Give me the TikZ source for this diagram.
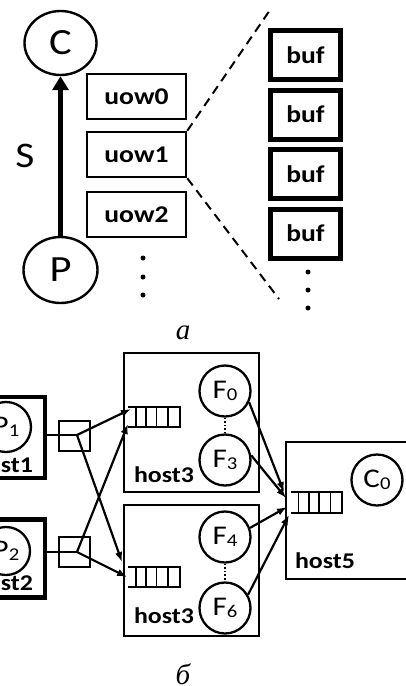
\documentclass[tikz,border=0pt]{standalone}
\usepackage{fontspec}
\setmainfont{Carlito}
\newfontfamily\widefont[FakeStretch=1.15]{Carlito}
\newfontfamily\capfont{Liberation Serif}
\usetikzlibrary{shapes.geometric,arrows.meta,calc}
\newcommand{\lowidx}[1]{\raisebox{-2pt}{\fontsize{18}{18}\selectfont #1}}
\begin{document}
\begin{tikzpicture}[x=1pt,y=-1pt,
  ring/.style={ellipse, draw, line width=2.4pt, inner sep=0pt, minimum width=72pt, minimum height=64pt, font=\widefont\fontsize{37}{37}\selectfont},
  uow/.style={rectangle, draw, line width=2.6pt, minimum width=99pt, minimum height=45pt, inner sep=0pt, font=\widefont\bfseries\fontsize{24}{24}\selectfont},
  buf/.style={rectangle, draw, line width=5pt, minimum width=70pt, minimum height=49pt, inner sep=0pt, font=\widefont\bfseries\fontsize{24}{24}\selectfont},
  dotmark/.style={circle, fill, inner sep=0pt, minimum size=5pt},
  dashline/.style={dash pattern=on 9pt off 6pt, line width=2pt},
  proc/.style={circle, draw, line width=2.3pt, minimum size=51pt, inner sep=0pt, font=\widefont\fontsize{27}{27}\selectfont},
  hostbox/.style={rectangle, draw, line width=2.8pt, inner sep=0pt},
  thickhost/.style={hostbox, line width=4.8pt},
  split/.style={rectangle, draw, line width=2pt, minimum width=31pt, minimum height=30pt, inner sep=0pt},
  queue/.style={rectangle, inner sep=0pt, minimum width=52pt, minimum height=20pt},
  qline/.style={line width=1.7pt},
  hostlbl/.style={font=\widefont\bfseries\fontsize{22.5}{22.5}\selectfont, anchor=base, inner sep=0pt},
  link/.style={line width=2.2pt},
  flow/.style={link, -{Latex[length=10pt,width=7.5pt]}},
  capt/.style={font=\capfont\itshape\fontsize{29}{29}\selectfont, inner sep=0pt}
]
\clip (0,0) rectangle (406,686);

% ---- part a: producer, consumer and units of work ----
\node[ring] (C) at (60.5,43) {C};
\node[ring, minimum width=74pt, minimum height=66pt] (P) at (60.5,270) {P};
\draw[line width=4.5pt, -{Triangle[length=14pt,width=16pt]}] (P.north) -- (C.south);
\node[font=\widefont\fontsize{36}{36}\selectfont, inner sep=0pt] (S) at (25,156) {S};

\node[uow] (u0) at (136.5,96.5) {uow0};
\node[uow] (u1) at (136.5,154.5) {uow1};
\node[uow] (u2) at (136.5,214.5) {uow2};
\foreach \y [count=\i] in {258,277,295} \node[dotmark] (ud\i) at (143,\y) {};

\coordinate (zt) at (270,10);
\coordinate (zb) at (279,299);
\draw[dashline] (u1.north east) -- (zt);
\draw[dashline] (u1.south east) -- (zb);

\foreach \y [count=\i] in {55,114.5,174,233.5} \node[buf] (b\i) at (305.5,\y) {buf};
\foreach \y [count=\i] in {272,290,308} \node[dotmark] (bd\i) at (308,\y) {};

\node[capt] (ca) at (183,333) {а};

% ---- part b: hosts, splitters and queues ----
\node[thickhost, minimum width=65pt, minimum height=81pt] (h1) at (12.5,437.5) {};
\node[thickhost, minimum width=65pt, minimum height=78.5pt] (h2) at (12.5,558.5) {};
\node[proc, minimum size=50pt] (P1) at (6,427) {P\lowidx{1}};
\node[proc, minimum size=48pt] (P2) at (6,551) {P\lowidx{2}};
\node[hostlbl] (l1) at (3,472) {host1};
\node[hostlbl] (l2) at (3,590) {host2};

\node[split] (s1) at (74,436) {};
\node[split] (s2) at (74,552) {};
\coordinate (j1) at (77,435);
\coordinate (j2) at (77,552);
\draw[link] (h1.east |- j1) -- (j1);
\draw[link] (h2.east |- j2) -- (j2);

\node[hostbox, minimum width=135pt, minimum height=139pt] (H3a) at (191.5,422.5) {};
\node[hostbox, minimum width=135pt, minimum height=131pt] (H3b) at (191.5,570.5) {};
\node[hostbox, minimum width=134pt, minimum height=137pt] (H5) at (353,510.5) {};

\node[queue] (qa) at (154,417) {};
\node[queue] (qb) at (154,577) {};
\node[queue, minimum width=51pt, minimum height=21pt] (qc) at (316.5,502.5) {};
\foreach \q in {qa,qb,qc} {
  \draw[qline] (\q.north west) -- (\q.north east) -- (\q.south east) -- (\q.south west);
  \foreach \f in {0.15,0.35,0.55,0.77}
    \draw[qline] ($(\q.north west)!\f!(\q.north east)$) -- ($(\q.south west)!\f!(\q.south east)$);
}

\node[proc] (F0) at (225,391) {F\lowidx{0}};
\node[proc] (F3) at (225,460) {F\lowidx{3}};
\node[proc] (F4) at (225,537) {F\lowidx{4}};
\node[proc] (F6) at (225,608) {F\lowidx{6}};
\node[proc] (C0) at (377,480) {C\lowidx{0}};
\draw[dotted, line width=1.6pt] (F0.south) -- (F3.north);
\draw[dotted, line width=1.6pt] (F4.south) -- (F6.north);

\node[hostlbl] (l3a) at (164,482) {host3};
\node[hostlbl] (l3b) at (164,623) {host3};
\node[hostlbl] (l5) at (325,568) {host5};

\coordinate (ta1) at (131,409);
\coordinate (ta2) at (128,424);
\coordinate (tb1) at (122,562);
\coordinate (tb2) at (127,577);
\draw[flow] (j1) -- (ta1);
\draw[flow] (j2) -- (ta2);
\draw[flow] (j1) -- (tb1);
\draw[flow] (j2) -- (tb2);

\coordinate (tc1) at (284,492);
\coordinate (tc2) at (286,498);
\coordinate (tc3) at (287,507);
\coordinate (tc4) at (289,515);
\draw[flow] (F0.-25) -- (tc1);
\draw[flow] (F3.10) -- (tc2);
\draw[flow] (F4.20) -- (tc3);
\draw[flow] (F6.30) -- (tc4);

\node[capt] (cb) at (183,674) {б};
\end{tikzpicture}
\end{document}
